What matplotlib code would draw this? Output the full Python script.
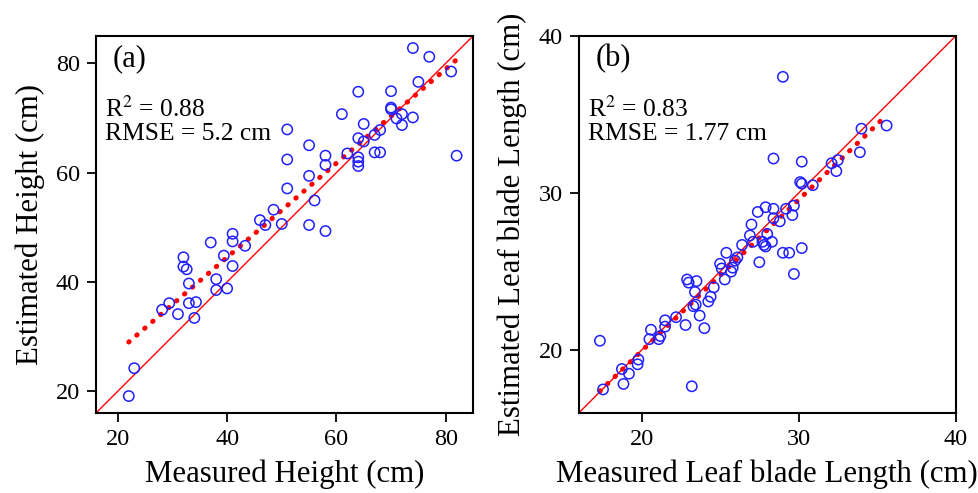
import numpy as np
import matplotlib
matplotlib.use("Agg")
import matplotlib.pyplot as plt

plt.rcParams['font.family'] = ['Liberation Serif', 'DejaVu Serif']
plt.rcParams['mathtext.fontset'] = 'stix'

# Panel (a): plant height (cm)
height_measured = [74, 77, 81, 75, 64, 70, 70, 70, 61, 72, 71, 74, 72, 65, 51, 68, 67, 64, 65, 55,
                   51, 58, 58, 62, 64, 64, 64, 67, 68, 82, 55, 51, 56, 48.5, 50, 55, 58, 46, 47, 41,
                   41, 37, 43.3, 39.4, 32, 32, 32.6, 41, 38, 33, 38, 40, 29.4, 28.1, 33, 34.3, 31, 34, 23, 22]
height_estimated = [82.8, 81.2, 78.5, 76.6, 74.8, 74.9, 71.9, 71.6, 70.7, 70.7, 69.9, 70.1, 68.7, 68.9, 67.9, 67.8, 66.9, 66.3, 65.7, 65.0,
                    62.4, 63.1, 61.4, 63.5, 62.8, 62.0, 61.2, 63.7, 63.7, 63.1, 59.4, 57.1, 54.9, 53.2, 50.6, 50.4, 49.3, 51.3, 50.4, 48.8,
                    47.4, 47.2, 46.6, 44.8, 44.5, 42.8, 42.3, 42.9, 40.5, 39.7, 38.5, 38.8, 36.1, 34.9, 36.1, 36.3, 34.1, 33.4, 24.2, 19.1]

# Panel (b): leaf blade length (cm)
leaf_measured = [29.0, 28.4, 30.2, 34.0, 35.6, 33.9, 32.1, 32.5, 32.4, 30.1, 30.2, 30.9, 27.9, 28.4, 29.2, 29.7, 29.6, 28.4, 28.8, 27.4,
                 27.0, 28.0, 28.3, 27.8, 27.9, 29.0, 29.4, 30.2, 29.7, 27.5, 26.9, 27.1, 26.4, 27.7, 25.4, 26.1, 25.95, 25.0, 25.1, 25.8,
                 25.7, 25.3, 22.9, 23.0, 23.5, 24.6, 23.4, 23.45, 23.3, 24.4, 24.25, 23.7, 22.2, 22.8, 24.0, 21.5, 21.5, 20.6, 20.5, 21.1,
                 21.2, 17.35, 19.8, 19.75, 18.75, 19.2, 18.85, 17.55, 23.2]
leaf_estimated = [37.4, 32.2, 32.0, 34.1, 34.3, 32.6, 31.9, 32.1, 31.4, 30.7, 30.6, 30.5, 29.1, 29.0, 29.0, 29.2, 28.6, 28.4, 28.2, 28.8,
                  28.0, 27.4, 26.9, 26.7, 26.6, 26.2, 26.2, 26.5, 24.85, 25.6, 27.3, 26.9, 26.7, 26.9, 26.2, 25.9, 25.7, 25.5, 25.2, 25.25,
                  25.0, 24.5, 24.5, 24.3, 24.4, 24.0, 23.7, 22.9, 22.8, 23.4, 23.1, 22.2, 22.1, 21.6, 21.4, 21.9, 21.5, 21.3, 20.7, 20.7,
                  20.9, 20.6, 19.4, 19.1, 18.8, 18.5, 17.85, 17.5, 17.7]

panels = [
    dict(x=height_measured, y=height_estimated, lim=(16, 85), ticks=[20, 40, 60, 80],
         tag='(a)', r2='0.88', rmse='5.2 cm',
         xlabel='Measured Height (cm)', ylabel='Estimated Height (cm)'),
    dict(x=leaf_measured, y=leaf_estimated, lim=(16, 40), ticks=[20, 30, 40],
         tag='(b)', r2='0.83', rmse='1.77 cm',
         xlabel='Measured Leaf blade Length (cm)', ylabel='Estimated Leaf blade Length (cm)'),
]

fig = plt.figure(figsize=(9.79, 4.93), dpi=100)
lefts = [96 / 979, 578.7 / 979]
for p, left in zip(panels, lefts):
    ax = fig.add_axes([left, 80 / 493, 377 / 979, 377 / 493])
    x = np.array(p['x']); y = np.array(p['y'])
    lo, hi = p['lim']
    ax.plot([lo, hi], [lo, hi], color='red', lw=1.0, zorder=2)
    k, b = np.polyfit(x, y, 1)
    xf = np.array([x.min(), x.max()])
    ax.plot(xf, k * xf + b, color='red', lw=3.6, linestyle=(0, (0.1, 2.0)),
            dash_capstyle='round', zorder=3)
    ax.scatter(x, y, s=55, facecolors='none', edgecolors='#2020ff', linewidths=1.1, zorder=4)
    ax.set_xlim(lo, hi); ax.set_ylim(lo, hi)
    ax.set_xticks(p['ticks']); ax.set_yticks(p['ticks'])
    ax.tick_params(direction='out', length=6.5, width=1.3, labelsize=17.5, pad=5,
                   top=False, right=False)
    for s in ax.spines.values():
        s.set_linewidth(1.5)
    ax.set_xlabel(p['xlabel'], fontsize=22.2, labelpad=7)
    ax.set_ylabel(p['ylabel'], fontsize=22.2, labelpad=8)
    ax.text(0.044, 0.978, p['tag'], transform=ax.transAxes, fontsize=22, va='top', ha='left')
    ax.text(0.025, 0.785, 'R$^2$ = ' + p['r2'], transform=ax.transAxes, fontsize=18.4, va='baseline', ha='left')
    ax.text(0.025, 0.725, 'RMSE = ' + p['rmse'], transform=ax.transAxes, fontsize=18.4, va='baseline', ha='left')

fig.savefig('out.png', dpi=100)
